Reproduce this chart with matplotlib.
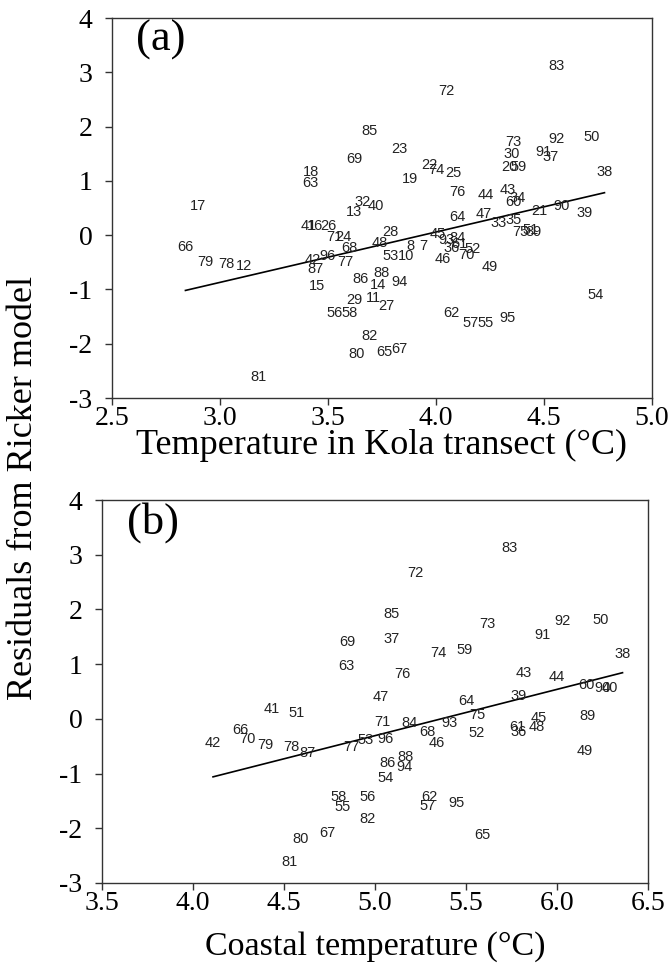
import numpy as np
import matplotlib.pyplot as plt

plt.rcParams["font.family"] = ["Liberation Serif", "DejaVu Serif"]
plt.rcParams["axes.unicode_minus"] = False

# ---- panel (a): Kola transect temperature ----
years_a = ["83", "72", "85", "23", "69", "18", "63", "17", "32", "13", "40",
           "19", "22", "74", "25", "76", "44", "43", "34", "60", "73", "30",
           "20", "59", "92", "91", "37", "50", "38", "21", "90", "39", "64",
           "47", "33", "35", "75", "51", "89", "28", "48", "53", "10", "8",
           "7", "45", "93", "84", "36", "61", "70", "52", "46", "49", "66",
           "79", "78", "12", "41", "16", "26", "71", "24", "68", "42", "96",
           "77", "87", "15", "86", "88", "14", "94", "29", "11", "27", "56",
           "58", "82", "80", "65", "67", "81", "62", "57", "55", "95", "54"]
kola_temp = [4.56, 4.05, 3.69, 3.83, 3.62, 3.42, 3.42, 2.90, 3.66, 3.62, 3.72,
             3.88, 3.97, 4.00, 4.08, 4.10, 4.23, 4.33, 4.38, 4.36, 4.36, 4.35,
             4.34, 4.38, 4.56, 4.50, 4.53, 4.72, 4.78, 4.48, 4.58, 4.69, 4.10,
             4.22, 4.29, 4.36, 4.39, 4.44, 4.45, 3.79, 3.74, 3.79, 3.86, 3.88,
             3.94, 4.01, 4.05, 4.10, 4.07, 4.11, 4.14, 4.17, 4.03, 4.25, 2.84,
             2.93, 3.03, 3.11, 3.41, 3.44, 3.50, 3.53, 3.57, 3.60, 3.43, 3.50,
             3.58, 3.44, 3.45, 3.65, 3.75, 3.73, 3.83, 3.62, 3.71, 3.77, 3.53,
             3.60, 3.69, 3.63, 3.76, 3.83, 3.18, 4.07, 4.16, 4.23, 4.33, 4.74]
resid_a = [3.11, 2.65, 1.91, 1.59, 1.41, 1.17, 0.96, 0.54, 0.61, 0.43, 0.54,
           1.04, 1.30, 1.20, 1.15, 0.80, 0.74, 0.83, 0.69, 0.61, 1.72, 1.50,
           1.26, 1.26, 1.78, 1.54, 1.44, 1.80, 1.17, 0.44, 0.54, 0.41, 0.33,
           0.39, 0.22, 0.28, 0.06, 0.09, 0.06, 0.06, -0.15, -0.39, -0.39, -0.20,
           -0.20, 0.02, -0.09, -0.06, -0.24, -0.16, -0.37, -0.26, -0.44, -0.59, -0.21,
           -0.50, -0.54, -0.57, 0.17, 0.17, 0.17, -0.04, -0.04, -0.24, -0.46, -0.39,
           -0.50, -0.63, -0.93, -0.81, -0.69, -0.91, -0.87, -1.19, -1.15, -1.30, -1.44,
           -1.43, -1.85, -2.19, -2.15, -2.09, -2.61, -1.43, -1.61, -1.61, -1.52, -1.11]
fit_a = (0.928, -3.654)

# ---- panel (b): coastal temperature ----
years_b = ["83", "72", "85", "37", "69", "63", "76", "47", "41", "51", "74",
           "59", "73", "92", "91", "50", "38", "43", "44", "60", "90", "40",
           "39", "64", "75", "93", "84", "71", "68", "46", "52", "61", "36",
           "48", "45", "89", "49", "53", "96", "77", "87", "78", "79", "70",
           "66", "42", "86", "88", "94", "54", "58", "55", "56", "82", "62",
           "57", "95", "65", "67", "80", "81"]
coastal_temp = [5.74, 5.22, 5.09, 5.09, 4.85, 4.84, 5.15, 5.03, 4.43, 4.57, 5.35,
                5.49, 5.62, 6.03, 5.92, 6.24, 6.36, 5.82, 6.00, 6.16, 6.25, 6.29,
                5.79, 5.50, 5.56, 5.41, 5.19, 5.04, 5.29, 5.34, 5.56, 5.78, 5.79,
                5.89, 5.90, 6.17, 6.15, 4.95, 5.06, 4.87, 4.63, 4.54, 4.40, 4.30,
                4.26, 4.11, 5.07, 5.17, 5.16, 5.06, 4.80, 4.82, 4.96, 4.96, 5.30,
                5.29, 5.45, 5.59, 4.74, 4.59, 4.53]
resid_b = [3.13, 2.67, 1.92, 1.46, 1.41, 0.97, 0.82, 0.40, 0.18, 0.11, 1.21,
           1.26, 1.74, 1.79, 1.54, 1.81, 1.19, 0.84, 0.77, 0.62, 0.57, 0.57,
           0.42, 0.33, 0.07, -0.07, -0.07, -0.05, -0.24, -0.44, -0.26, -0.15, -0.24,
           -0.15, 0.02, 0.05, -0.58, -0.38, -0.37, -0.51, -0.62, -0.51, -0.48, -0.37,
           -0.20, -0.44, -0.80, -0.69, -0.88, -1.08, -1.43, -1.61, -1.43, -1.83, -1.43,
           -1.59, -1.54, -2.12, -2.08, -2.19, -2.61]
fit_b = (0.846, -4.537)


def draw_panel(ax, x, y, labels, fit, xlim, xticks, tag, xlabel, xl_size, xl_pad):
    for xi, yi, lab in zip(x, y, labels):
        ax.text(xi, yi, lab, ha="center", va="center", fontsize=10.5,
                family=["Liberation Sans", "DejaVu Sans"], color="#222222")
    xs = np.array([min(x), max(x)])
    ax.plot(xs, fit[0] * xs + fit[1], color="black", lw=1.2)
    ax.set_xlim(*xlim)
    ax.set_ylim(-3, 4)
    ax.set_xticks(xticks)
    ax.set_xticklabels([f"{t:.1f}" for t in xticks])
    ax.set_yticks(range(-3, 5))
    ax.tick_params(direction="out", length=5, width=1, labelsize=20,
                   color="#333333")
    ax.tick_params(axis="y", pad=9)
    ax.tick_params(axis="x", pad=1)
    for s in ax.spines.values():
        s.set_color("#333333")
        s.set_linewidth(1)
    ax.text(0.045, 0.995, tag, transform=ax.transAxes, fontsize=32,
            ha="left", va="top")
    ax.set_xlabel(xlabel, fontsize=xl_size, labelpad=xl_pad)


fig = plt.figure(figsize=(6.72, 9.76), dpi=100)
ax1 = fig.add_axes([112 / 672, 1 - 398 / 976, 540 / 672, 380 / 976])
ax2 = fig.add_axes([102 / 672, 1 - 883 / 976, 546 / 672, 383 / 976])

draw_panel(ax1, kola_temp, resid_a, years_a, fit_a, (2.5, 5.0),
           [2.5, 3.0, 3.5, 4.0, 4.5, 5.0], "(a)",
           "Temperature in Kola transect (°C)", 26, -2)
draw_panel(ax2, coastal_temp, resid_b, years_b, fit_b, (3.5, 6.5),
           [3.5, 4.0, 4.5, 5.0, 5.5, 6.0, 6.5], "(b)",
           "Coastal temperature (°C)", 24.5, 11)

fig.text(0.035, 0.5, "Residuals from Ricker model", rotation=90,
         ha="center", va="center", fontsize=26)

fig.savefig("out.png", dpi=100)
